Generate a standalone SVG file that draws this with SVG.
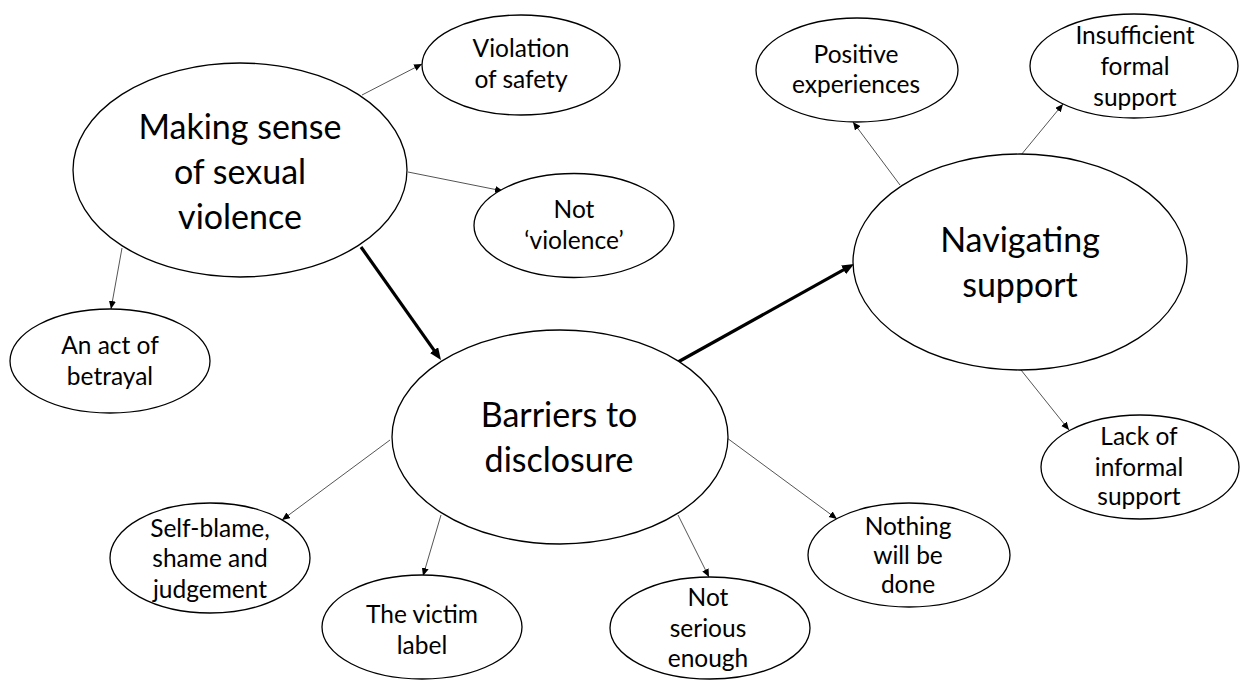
<svg xmlns="http://www.w3.org/2000/svg" width="1240" height="680" viewBox="0 0 1240 680">
<style>
.node ellipse{fill:#fff;stroke:#000;stroke-width:1.3}
.big{font-family:Lato,"Open Sans","Liberation Sans",sans-serif;font-size:34px;fill:#000;text-anchor:middle}
.small{font-family:Lato,"Open Sans","Liberation Sans",sans-serif;font-size:24.5px;fill:#000;text-anchor:middle}
.thin{stroke:#555;stroke-width:1;fill:none}
.thick{stroke:#000;stroke-width:3.2;fill:none}
</style>
<defs>
<marker id="ah" markerUnits="userSpaceOnUse" markerWidth="9" markerHeight="8" refX="8" refY="3.5" orient="auto"><path d="M0,0 L8,3.5 L0,7 z" fill="#000"/></marker>
<marker id="ahb" markerUnits="userSpaceOnUse" markerWidth="13" markerHeight="11" refX="6" refY="5" orient="auto"><path d="M0,0 L12,5 L0,10 z" fill="#000"/></marker>
</defs>
<rect width="1240" height="680" fill="#fff"/>
<g id="connectors">
<line class="thin" x1="362" y1="95" x2="422" y2="64" marker-end="url(#ah)"/>
<line class="thin" x1="408" y1="172" x2="503" y2="191" marker-end="url(#ah)"/>
<line class="thin" x1="122" y1="248" x2="111" y2="309" marker-end="url(#ah)"/>
<line class="thin" x1="900" y1="185" x2="853" y2="122" marker-end="url(#ah)"/>
<line class="thin" x1="1021" y1="155" x2="1063" y2="104" marker-end="url(#ah)"/>
<line class="thin" x1="1021" y1="370" x2="1069" y2="430" marker-end="url(#ah)"/>
<line class="thin" x1="390" y1="440" x2="282" y2="520" marker-end="url(#ah)"/>
<line class="thin" x1="441" y1="515" x2="423" y2="576" marker-end="url(#ah)"/>
<line class="thin" x1="678" y1="515" x2="709" y2="577" marker-end="url(#ah)"/>
<line class="thin" x1="727" y1="438" x2="837" y2="519" marker-end="url(#ah)"/>
<line class="thick" x1="361" y1="247" x2="437.5" y2="355.1" marker-end="url(#ahb)"/>
<line class="thick" x1="678" y1="362" x2="848.8" y2="266.9" marker-end="url(#ahb)"/>
</g>
<g id="making-sense" class="node">
<ellipse cx="240" cy="170" rx="167" ry="107"/>
<text class="big" x="240" y="139">Making sense</text>
<text class="big" x="240" y="184">of sexual</text>
<text class="big" x="240" y="229">violence</text>
</g>
<g id="violation" class="node">
<ellipse cx="521" cy="65" rx="99" ry="50"/>
<text class="small" x="521" y="57">Violation</text>
<text class="small" x="521" y="88">of safety</text>
</g>
<g id="not-violence" class="node">
<ellipse cx="574" cy="225.5" rx="100" ry="52"/>
<text class="small" x="574" y="218">Not</text>
<text class="small" x="574" y="249">‘violence’</text>
</g>
<g id="betrayal" class="node">
<ellipse cx="110" cy="361" rx="100" ry="52"/>
<text class="small" x="110" y="354">An act of</text>
<text class="small" x="110" y="385">betrayal</text>
</g>
<g id="barriers" class="node">
<ellipse cx="560" cy="437" rx="168" ry="107"/>
<text class="big" x="559" y="427">Barriers to</text>
<text class="big" x="559" y="472">disclosure</text>
</g>
<g id="navigating" class="node">
<ellipse cx="1020" cy="262" rx="167" ry="108"/>
<text class="big" x="1020" y="252">Navigating</text>
<text class="big" x="1020" y="297">support</text>
</g>
<g id="positive" class="node">
<ellipse cx="857" cy="70" rx="101" ry="52"/>
<text class="small" x="856" y="63">Positive</text>
<text class="small" x="856" y="93">experiences</text>
</g>
<g id="insufficient" class="node">
<ellipse cx="1134" cy="66" rx="104" ry="52"/>
<text class="small" x="1135" y="44">Insufficient</text>
<text class="small" x="1135" y="75">formal</text>
<text class="small" x="1135" y="106">support</text>
</g>
<g id="lack" class="node">
<ellipse cx="1140" cy="467" rx="99" ry="52"/>
<text class="small" x="1139" y="445">Lack of</text>
<text class="small" x="1139" y="476">informal</text>
<text class="small" x="1139" y="505">support</text>
</g>
<g id="self-blame" class="node">
<ellipse cx="210" cy="558" rx="100" ry="55"/>
<text class="small" x="210" y="537">Self-blame,</text>
<text class="small" x="210" y="567">shame and</text>
<text class="small" x="210" y="598">judgement</text>
</g>
<g id="victim" class="node">
<ellipse cx="422" cy="627" rx="100" ry="52"/>
<text class="small" x="422" y="623">The victim</text>
<text class="small" x="422" y="654">label</text>
</g>
<g id="not-serious" class="node">
<ellipse cx="710" cy="628" rx="100" ry="51"/>
<text class="small" x="708" y="606">Not</text>
<text class="small" x="708" y="637">serious</text>
<text class="small" x="708" y="667">enough</text>
</g>
<g id="nothing" class="node">
<ellipse cx="909" cy="555" rx="101" ry="52"/>
<text class="small" x="908" y="535">Nothing</text>
<text class="small" x="908" y="564">will be</text>
<text class="small" x="908" y="593">done</text>
</g>
</svg>
